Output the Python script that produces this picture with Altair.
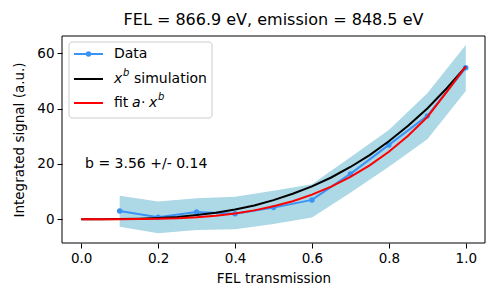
import altair as alt
import pandas as pd

# measured data
x_data = [0.1, 0.2, 0.3, 0.4, 0.5, 0.6, 0.7, 0.8, 0.9, 1.0]
y_data = [3.0, 0.7, 2.6, 2.0, 4.2, 7.0, 16.4, 26.9, 37.4, 54.8]
y_low = [-2.7, -5.1, -3.9, -3.6, -1.7, 0.6, 9.6, 19.0, 28.9, 46.4]
y_high = [8.5, 6.4, 7.6, 8.1, 10.3, 12.7, 22.4, 32.3, 45.6, 63.0]

# curves
x_curve = [0.0, 0.05, 0.1, 0.15, 0.2, 0.25, 0.3, 0.35, 0.4, 0.45, 0.5,
           0.55, 0.6, 0.65, 0.7, 0.75, 0.8, 0.85, 0.9, 0.95, 1.0]
y_sim = [0.0, 0.01, 0.05, 0.2, 0.45, 0.85, 1.5, 2.35, 3.5, 5.0, 6.9,
         9.2, 11.9, 15.1, 18.9, 23.2, 28.2, 33.8, 40.1, 47.3, 55.2]
y_fit = [0.0, 0.0, 0.02, 0.06, 0.18, 0.39, 0.76, 1.3, 2.1, 3.2, 4.7,
         6.5, 8.9, 11.8, 15.3, 19.5, 24.4, 30.2, 37.0, 46.0, 55.3]

title = "FEL = 866.9 eV, emission = 848.5 eV"
annotation = "b = 3.56 +/- 0.14"
legend_colors = ["#3b93f5", "black", "red"]

FONT = "DejaVu Sans"
W, H = 423, 207

df = pd.DataFrame({"x": x_data, "y": y_data, "lo": y_low, "hi": y_high})
dc = pd.DataFrame({"x": x_curve, "sim": y_sim, "fit": y_fit})

xs = alt.Scale(domain=[-0.05, 1.05], nice=False, zero=False)
ys = alt.Scale(domain=[-8.6, 66.3], nice=False, zero=False)

xax = alt.Axis(values=[0, 0.2, 0.4, 0.6, 0.8, 1.0], format=".1f", grid=False,
               title="FEL transmission", tickSize=5, labelPadding=3, titlePadding=7)
yax = alt.Axis(values=[0, 20, 40, 60], grid=False, title="Integrated signal (a.u.)",
               tickSize=5, labelPadding=3, titlePadding=10)

X = alt.X("x:Q", scale=xs, axis=xax)
Y = alt.Y("y:Q", scale=ys, axis=yax)

band = alt.Chart(df).mark_area(color="#add8e6", clip=True).encode(
    x=X, y=alt.Y("lo:Q", scale=ys, axis=yax), y2="hi:Q")
line = alt.Chart(df).mark_line(color=legend_colors[0], strokeWidth=2, clip=True).encode(x=X, y=Y)
dots = alt.Chart(df).mark_circle(color=legend_colors[0], size=30, opacity=1, clip=True).encode(x=X, y=Y)
sim = alt.Chart(dc).mark_line(color="black", strokeWidth=2, clip=True).encode(
    x=X, y=alt.Y("sim:Q", scale=ys, axis=yax))
fit = alt.Chart(dc).mark_line(color="red", strokeWidth=2, clip=True).encode(
    x=X, y=alt.Y("fit:Q", scale=ys, axis=yax))

ann = alt.Chart(pd.DataFrame({"x": [0.01], "y": [20], "t": [annotation]})).mark_text(
    align="left", baseline="middle", font=FONT, fontSize=14, color="black").encode(
    x=X, y=Y, text="t:N")

# frame
frame = alt.Chart(pd.DataFrame({"a": [0]})).mark_rect(
    fill=None, stroke="black", strokeWidth=1).encode(
    x=alt.value(0), x2=alt.value(W), y=alt.value(0), y2=alt.value(H))

# manual legend
one = pd.DataFrame({"a": [0]})
leg_box = alt.Chart(one).mark_rect(
    fill="white", fillOpacity=0.8, stroke="#cccccc", strokeWidth=1, cornerRadius=3).encode(
    x=alt.value(7), x2=alt.value(150), y=alt.value(6), y2=alt.value(82))
legend_rows = [18, 43, 67]
leg_layers = [leg_box]
for col, yy in zip(legend_colors, legend_rows):
    leg_layers.append(alt.Chart(one).mark_rule(color=col, strokeWidth=2).encode(
        x=alt.value(12), x2=alt.value(41), y=alt.value(yy)))
leg_layers.append(alt.Chart(one).mark_point(
    shape="circle", filled=True, color=legend_colors[0], size=30, opacity=1).encode(
    x=alt.value(26.5), y=alt.value(legend_rows[0])))

# legend text pieces: (text, x, row, dy, size, style)
legend_pieces = [
    ("Data", 52, 0, 0, 14, "normal"),
    ("x", 52, 1, 0, 14, "italic"),
    ("b", 61, 1, -6, 10, "italic"),
    ("simulation", 72, 1, 0, 14, "normal"),
    ("fit", 52, 2, 0, 14, "normal"),
    ("a", 70, 2, 0, 14, "italic"),
    ("·", 79, 2, 0, 14, "normal"),
    ("x", 87, 2, 0, 14, "italic"),
    ("b", 96, 2, -6, 10, "italic"),
]
for t, xx, r, dy, fs, st in legend_pieces:
    leg_layers.append(alt.Chart(pd.DataFrame({"t": [t]})).mark_text(
        align="left", baseline="middle", font=FONT, fontSize=fs, fontStyle=st,
        color="black", dy=dy).encode(
        x=alt.value(xx), y=alt.value(legend_rows[r]), text="t:N"))

chart = alt.layer(band, line, dots, sim, fit, ann, frame, *leg_layers).properties(
    width=W, height=H,
    title=alt.TitleParams(title, font=FONT, fontSize=16, fontWeight="normal", offset=8, color="black"),
    autosize=alt.AutoSizeParams(type="none"),
    padding={"left": 54, "top": 28, "right": 7, "bottom": 45},
).configure_view(stroke=None).configure_axis(
    labelFont=FONT, titleFont=FONT, labelFontSize=13.5, titleFontSize=13.5,
    titleFontWeight="normal", labelColor="black", titleColor="black",
    domain=False, tickColor="black")

chart.save("out.html", embed_options={"renderer": "svg", "actions": False})
